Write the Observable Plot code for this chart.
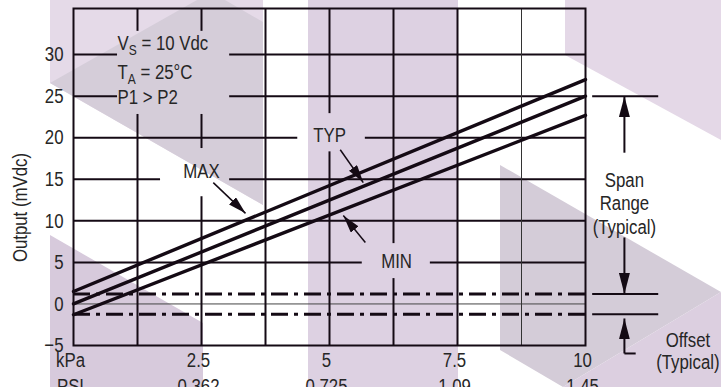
<!DOCTYPE html>
<html>
<head>
<meta charset="utf-8">
<script src="https://cdn.jsdelivr.net/npm/d3@7"></script>
<script src="https://cdn.jsdelivr.net/npm/@observablehq/plot@0.6"></script>
<style>
  body { margin: 0; background: #fff; }
  #wrap { position: relative; width: 721px; height: 387px; overflow: hidden; background: #fff; }
  .wm { position: absolute; left: 0; top: 0; width: 721px; height: 387px; }
  #chart { position: absolute; left: 0; top: 0; }
</style>
</head>
<body>
<div id="wrap">
  <div class="wm" style="background:#e5dae8;clip-path:polygon(50px 0,263px 0,263px 205px,50px 83px)"></div>
  <div class="wm" style="background:#d5cdd9;clip-path:polygon(50px 83px,197px 0,225px 0,263px 22px,263px 205px)"></div>
  <div class="wm" style="background:#d7cadc;clip-path:polygon(50px 235px,203px 323px,203px 387px,50px 387px)"></div>
  <div class="wm" style="background:#ddd1e2;clip-path:polygon(308px 0,458px 0,458px 387px,308px 387px)"></div>
  <div class="wm" style="background:#e4d8e7;clip-path:polygon(565px 0,721px 0,721px 140px,565px 55px)"></div>
  <div class="wm" style="background:#d4ccd8;clip-path:polygon(500px 165px,721px 292px,563px 387px,500px 350px)"></div>
  <div class="wm" style="background:#dccfe0;clip-path:polygon(721px 292px,721px 387px,563px 387px)"></div>
  <div id="chart"></div>
</div>
<script>
// ---- data ----
const series = ["MAX", "TYP", "MIN"];
const pressureKpa = [0, 10];
const maxOutput = [1.5, 27];
const typOutput = [0, 25];
const minOutput = [-1.3, 22.7];
const offsetLimits = [1.2, -1.25];
const yTicks = [-5, 0, 5, 10, 15, 20, 25, 30];
const xTicks = [0, 2.5, 5, 7.5, 10];
const kpaLabels = ["kPa", "2.5", "5", "7.5", "10"];
const psiLabels = ["PSI", "0.362", "0.725", "1.09", "1.45"];
const gridX = [1.25, 2.5, 3.75, 5, 6.25, 7.5, 8.75];
const gridY = [0, 5, 10, 15, 20, 25, 30];
const conditions = ["V_S = 10 Vdc", "T_A = 25°C", "P1 > P2"];
const yTitle = "Output (mVdc)";
const spanLabel = "Span\nRange\n(Typical)";
const offsetLabel = "Offset\n(Typical)";

// ---- build tables ----
const outputs = [maxOutput, typOutput, minOutput];
const lineRows = series.flatMap((s, i) => outputs[i].map((v, j) => ({series: s, kpa: pressureKpa[j], mv: v})));

const FONT = '"Liberation Sans", Arial, sans-serif';
const FS = 21;
const INK = "#140a14";
const TXT = "#262626";

// label boxes (data units) where grid lines are interrupted
const gapBoxes = [
  {x1: 0.86, x2: 3.05, y1: 22.8, y2: 32.8},
  {x1: 1.70, x2: 3.05, y1: 12.9, y2: 18.7},
  {x1: 4.38, x2: 5.70, y1: 18.3, y2: 22.9},
  {x1: 5.64, x2: 6.97, y1: 3.05, y2: 7.26}
];
function cut(segs, a, b) {
  const out = [];
  for (const [s, e] of segs) {
    if (b <= s || a >= e) { out.push([s, e]); continue; }
    if (a > s) out.push([s, a]);
    if (b < e) out.push([b, e]);
  }
  return out;
}
const hSegs = gridY.flatMap(y => {
  let segs = [[0, 10]];
  for (const g of gapBoxes) if (y > g.y1 && y < g.y2) segs = cut(segs, g.x1, g.x2);
  return segs.map(([a, b]) => ({y, x1: a, x2: b, thin: y === 0}));
});
const vSegs = gridX.flatMap(x => {
  let segs = [[-5, 35.55]];
  for (const g of gapBoxes) if (x > g.x1 && x < g.x2) segs = cut(segs, g.y1, g.y2);
  return segs.map(([a, b]) => ({x, y1: a, y2: b, thin: x === 8.75}));
});

// annotation positions (data units)
const calloutArrows = [
  {x1: 2.73, y1: 14.6, x2: 3.36, y2: 10.9},
  {x1: 5.21, y1: 18.55, x2: 5.66, y2: 14.6},
  {x1: 5.70, y1: 7.39, x2: 5.27, y2: 10.64}
];
const calloutLabels = [
  {t: "MAX", x: 2.5, y: 16.0},
  {t: "TYP", x: 5.0, y: 20.3},
  {t: "MIN", x: 6.31, y: 5.1}
];
const spanX = 10.76;
const spanArrows = [
  {x1: spanX, y1: 18.2, x2: spanX, y2: typOutput[1]},
  {x1: spanX, y1: 8.0, x2: spanX, y2: offsetLimits[0]},
  {x1: spanX, y1: -5.96, x2: spanX, y2: offsetLimits[1] - 0.5}
];

const chart = Plot.plot({
  width: 721,
  height: 387,
  marginLeft: 73,
  marginRight: 136,
  marginTop: 8,
  marginBottom: 42,
  style: {background: "transparent", fontFamily: FONT, fontSize: FS + "px", color: TXT},
  x: {domain: [0, 10], axis: null},
  y: {domain: [-5, 35.55], axis: null},
  marks: [
    // grid
    Plot.ruleY(hSegs.filter(d => !d.thin), {y: "y", x1: "x1", x2: "x2", stroke: INK, strokeWidth: 2}),
    Plot.ruleY(hSegs.filter(d => d.thin), {y: "y", x1: "x1", x2: "x2", stroke: "#444", strokeWidth: 1}),
    Plot.ruleX(vSegs.filter(d => !d.thin), {x: "x", y1: "y1", y2: "y2", stroke: INK, strokeWidth: 2}),
    Plot.ruleX(vSegs.filter(d => d.thin), {x: "x", y1: "y1", y2: "y2", stroke: "#333", strokeWidth: 1}),
    Plot.frame({stroke: INK, strokeWidth: 2}),
    // offset dash-dot
    Plot.ruleY(offsetLimits, {x1: 0, x2: 10, stroke: INK, strokeWidth: 3, strokeDasharray: "17,6,4,6"}),
    // data lines
    Plot.line(lineRows, {x: "kpa", y: "mv", z: "series", stroke: INK, strokeWidth: 3.4}),
    // y axis labels
    Plot.axisY(yTicks, {tickSize: 0, tickPadding: 10, label: null, fontSize: FS, fill: TXT}),
    Plot.text([{t: yTitle, y: 11.6}], {y: "y", text: "t", frameAnchor: "left", textAnchor: "middle", dx: -53, rotate: -90, fontSize: FS, fill: TXT}),
    // x axis labels
    Plot.text(xTicks, {x: d => d, y: -5, text: (d, i) => kpaLabels[i], dy: 15, dx: -3, lineAnchor: "middle", fontSize: FS, fill: TXT}),
    Plot.text(xTicks, {x: d => d, y: -5, text: (d, i) => psiLabels[i], dy: 41, dx: -3, lineAnchor: "middle", fontSize: FS, fill: TXT}),
    // conditions
    Plot.text(conditions, {x: 0.86, y: (d, i) => [30.5, 27.1, 24.0][i], text: d => d, textAnchor: "start", lineAnchor: "bottom", fontSize: FS, fill: TXT}),
    // callouts
    Plot.text(calloutLabels, {x: "x", y: "y", text: "t", lineAnchor: "middle", fontSize: FS, fill: TXT}),
    Plot.link(calloutArrows, {x1: "x1", y1: "y1", x2: "x2", y2: "y2", stroke: INK, strokeWidth: 1.5, ariaDescription: "callout-arrow"}),
    // span / offset annotation on the right
    Plot.ruleY([typOutput[1], ...offsetLimits], {x1: 10.14, x2: 11.43, stroke: INK, strokeWidth: 2}),
    Plot.link(spanArrows, {x1: "x1", y1: "y1", x2: "x2", y2: "y2", stroke: INK, strokeWidth: 2, ariaDescription: "span-arrow"}),
    Plot.link([{x1: spanX, x2: 10.98, y: -5.96}], {x1: "x1", x2: "x2", y1: "y", y2: "y", stroke: INK, strokeWidth: 2}),
    Plot.text([spanLabel], {x: spanX, y: 12.2, text: d => d, lineAnchor: "middle", lineHeight: 1.12, fontSize: FS, fill: TXT}),
    Plot.text([offsetLabel], {x: 12.0, y: -5.7, text: d => d, lineAnchor: "middle", lineHeight: 1.05, fontSize: FS, fill: TXT})
  ]
});

// subscripts
const NS = "http://www.w3.org/2000/svg";
chart.querySelectorAll("text").forEach(t => {
  const s = t.textContent;
  const m = s.match(/^(.*?)_(\w)(.*)$/);
  if (!m) return;
  t.textContent = "";
  const mk = (txt, attrs = {}) => {
    const ts = document.createElementNS(NS, "tspan");
    ts.textContent = txt;
    for (const k in attrs) ts.setAttribute(k, attrs[k]);
    t.appendChild(ts);
  };
  mk(m[1]);
  mk(m[2], {dy: "5", "font-size": "15"});
  mk(m[3], {dy: "-5"});
});

// filled arrowheads
const svgSel = d3.select(chart);
const defs = svgSel.insert("defs", ":first-child");
function addMarker(id, len, wid) {
  defs.append("marker").attr("id", id)
    .attr("viewBox", `0 ${-wid / 2} ${len} ${wid}`)
    .attr("refX", len).attr("refY", 0)
    .attr("markerWidth", len).attr("markerHeight", wid)
    .attr("markerUnits", "userSpaceOnUse").attr("orient", "auto")
    .append("path").attr("d", `M0,${-wid / 2}L${len},0L0,${wid / 2}Z`).attr("fill", INK).attr("stroke", "none");
}
addMarker("headSmall", 18, 10);
addMarker("headBig", 21, 11);
function applyHead(label, id) {
  svgSel.selectAll(`[aria-description="${label}"]`).each(function () {
    if (this.tagName.toLowerCase() === "path") this.setAttribute("marker-end", `url(#${id})`);
    else d3.select(this).selectAll("path").attr("marker-end", `url(#${id})`);
  });
}
applyHead("callout-arrow", "headSmall");
applyHead("span-arrow", "headBig");

document.getElementById("chart").appendChild(chart);

// narrow (condensed) lettering, as in the original typeface
const SX = 0.8;
chart.querySelectorAll("text").forEach(t => {
  const g = document.createElementNS(NS, "g");
  t.parentNode.insertBefore(g, t);
  g.appendChild(t);
  const b = g.getBBox();
  if (b.height > 2 * b.width) {
    const cy = b.y + b.height / 2;
    g.setAttribute("transform", `translate(0,${cy}) scale(1,${SX}) translate(0,${-cy})`);
  } else {
    const anchor = getComputedStyle(t).textAnchor;
    const ax = anchor === "middle" ? b.x + b.width / 2 : anchor === "end" ? b.x + b.width : b.x;
    g.setAttribute("transform", `translate(${ax},0) scale(${SX},1) translate(${-ax},0)`);
  }
});
</script>
</body>
</html>
